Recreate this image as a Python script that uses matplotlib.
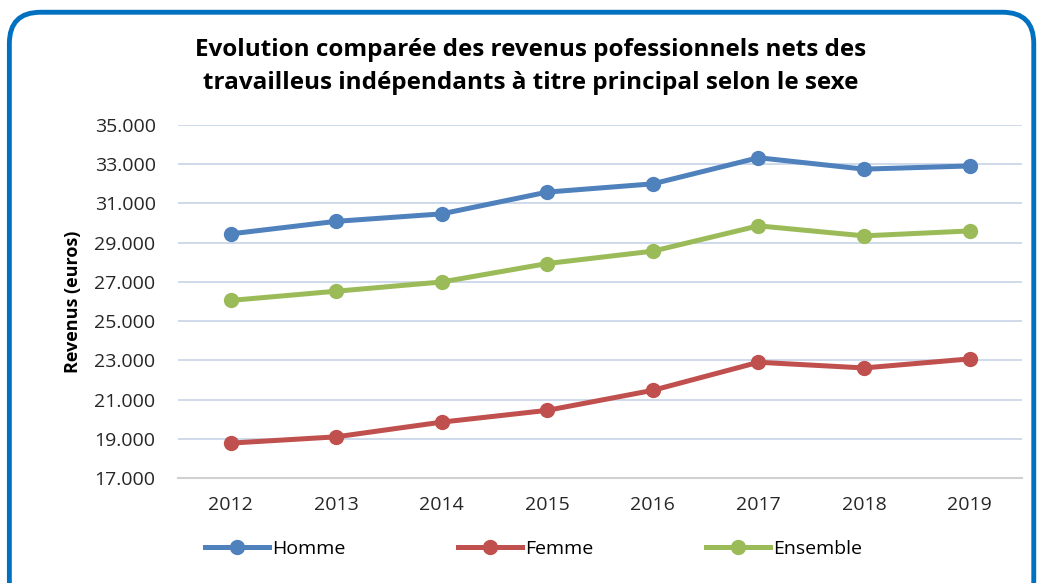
import matplotlib.pyplot as plt
from matplotlib.patches import FancyBboxPatch

years = ["2012", "2013", "2014", "2015", "2016", "2017", "2018", "2019"]
homme = [29440, 30080, 30460, 31570, 31990, 33320, 32740, 32900]
femme = [18780, 19100, 19850, 20450, 21470, 22900, 22610, 23070]
ensemble = [26050, 26520, 26990, 27930, 28560, 29850, 29340, 29590]
yticks = [17000, 19000, 21000, 23000, 25000, 27000, 29000, 31000, 33000, 35000]

plt.rcParams['font.family'] = ['Open Sans', 'DejaVu Sans']

fig = plt.figure(figsize=(10.4, 5.83), dpi=100)

# rounded blue frame
frame = FancyBboxPatch((0.009, -0.05), 0.985, 1.029, boxstyle="round,pad=0,rounding_size=0.03",
                       transform=fig.transFigure, fill=False, edgecolor="#0070C0",
                       linewidth=3.5, mutation_aspect=1040 / 583)
fig.patches.append(frame)

ax = fig.add_axes([0.171, 0.180, 0.812, 0.606])
x = range(len(years))
ax.plot(x, homme, color="#4F81BD", lw=3.6, marker="o", ms=10, label="Homme")
ax.plot(x, femme, color="#C0504D", lw=3.6, marker="o", ms=10, label="Femme")
ax.plot(x, ensemble, color="#9BBB59", lw=3.6, marker="o", ms=10, label="Ensemble")

ax.set_xlim(-0.5, len(years) - 0.5)
ax.set_ylim(17000, 35000)
ax.set_yticks(yticks)
ax.set_yticklabels([f"{v // 1000}.000" for v in yticks], fontsize=14, color="#262626")
ax.set_xticks(list(x))
ax.set_xticklabels(years, fontsize=14, color="#262626")
ax.tick_params(length=0)
ax.tick_params(axis="x", pad=13)
ax.tick_params(axis="y", pad=16)
ax.grid(axis="y", color="#C6D4E8", lw=1.2)
ax.set_axisbelow(True)
for s in ["left", "right", "top"]:
    ax.spines[s].set_visible(False)
ax.spines["bottom"].set_color("#D0D0D0")
ax.spines["bottom"].set_linewidth(1.5)
ax.set_ylabel("Revenus (euros)", fontsize=13, fontweight="bold", labelpad=9)

fig.text(0.51, 0.886, "Evolution comparée des revenus pofessionnels nets des\ntravailleus indépendants à titre principal selon le sexe",
         ha="center", va="center", fontsize=17.5, fontweight="bold", linespacing=1.45)

fig.legend(loc="center", bbox_to_anchor=(0.513, 0.058), ncol=3, frameon=False,
           fontsize=14, columnspacing=5.8, handlelength=3.3, handletextpad=0.15,
           bbox_transform=fig.transFigure)

fig.savefig("out.png", dpi=100)
